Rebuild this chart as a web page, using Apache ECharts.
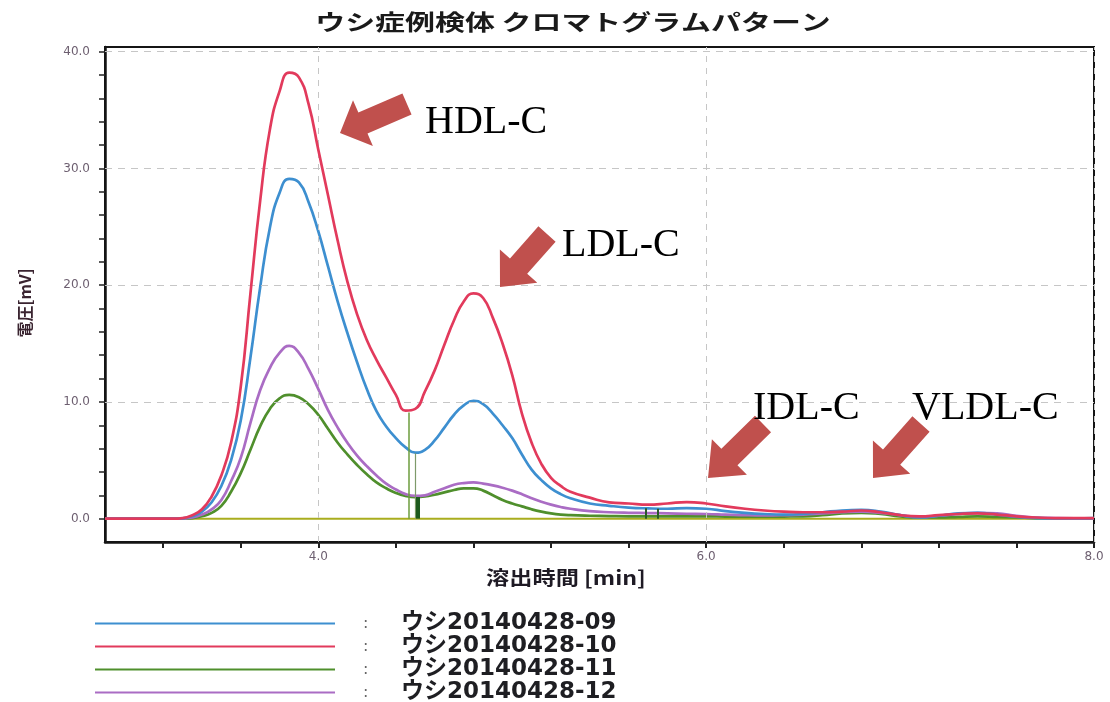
<!DOCTYPE html>
<html>
<head>
<meta charset="utf-8">
<title>ウシ症例検体 クロマトグラムパターン</title>
<script src="https://cdn.jsdelivr.net/npm/echarts@6/dist/echarts.min.js"></script>
<style>
  html, body { margin: 0; padding: 0; background: #ffffff; }
  #chart { width: 1110px; height: 702px; }
</style>
</head>
<body>
<div id="chart"></div>
<script>
// Elution time [min], shared by all four traces
const times = [
  2.9, 3.0, 3.1, 3.2, 3.25, 3.3, 3.35, 3.4, 3.45, 3.5, 3.55, 3.6, 3.65, 3.7, 3.75,
  3.8, 3.85, 3.9, 3.95, 4.0, 4.05, 4.1, 4.15, 4.2, 4.25, 4.3, 4.35, 4.4, 4.45, 4.5,
  4.55, 4.6, 4.65, 4.7, 4.75, 4.8, 4.85, 4.9, 4.95, 5.0, 5.05, 5.1, 5.15, 5.2, 5.25,
  5.3, 5.4, 5.5, 5.6, 5.7, 5.8, 5.9, 6.0, 6.1, 6.2, 6.3, 6.4, 6.5, 6.6, 6.7,
  6.8, 6.9, 7.0, 7.1, 7.2, 7.3, 7.4, 7.5, 7.6, 7.7, 7.8, 7.9, 8.0
];

// Detector voltage [mV] per sample
const sample09 = [
  0, 0, 0, 0, 0, 0.03, 0.2, 0.6, 1.4, 2.8, 5.0, 8.4, 13.8, 19.8, 24.9,
  27.9, 29.1, 28.8, 27.1, 24.6, 21.6, 18.6, 15.9, 13.4, 11.1, 9.2, 7.9, 6.9, 6.1, 5.65,
  5.9, 6.7, 7.8, 8.9, 9.7, 10.1, 9.8, 9.0, 8.0, 6.9, 5.5, 4.2, 3.3, 2.6, 2.1,
  1.75, 1.3, 1.1, 0.95, 0.88, 0.85, 0.9, 0.85, 0.65, 0.5, 0.4, 0.35, 0.4, 0.55, 0.7,
  0.75, 0.6, 0.3, 0.1, 0.25, 0.45, 0.5, 0.35, 0.15, 0.05, 0.02, 0.02, 0.05
];
const sample10 = [
  0, 0, 0, 0, 0, 0.05, 0.3, 0.8, 1.9, 3.7, 6.5, 11.3, 19.3, 27.2, 33.3,
  36.6, 38.2, 37.8, 35.5, 31.6, 27.7, 23.8, 20.3, 17.5, 15.3, 13.6, 12.1, 10.6, 9.25, 9.4,
  10.9, 12.7, 14.9, 17.0, 18.6, 19.3, 18.9, 17.2, 15.0, 12.3, 9.0, 6.5, 4.7, 3.5, 2.8,
  2.3, 1.8, 1.4, 1.3, 1.2, 1.3, 1.42, 1.3, 1.05, 0.85, 0.7, 0.6, 0.55, 0.55, 0.6,
  0.7, 0.55, 0.3, 0.2, 0.3, 0.4, 0.45, 0.35, 0.2, 0.1, 0.05, 0.05, 0.05
];
const sample11 = [
  0, 0, 0, 0, 0, 0.01, 0.05, 0.2, 0.5, 1.1, 2.3, 3.9, 5.9, 7.9, 9.4,
  10.3, 10.6, 10.4, 9.8, 8.9, 7.7, 6.5, 5.5, 4.6, 3.8, 3.1, 2.6, 2.2, 1.95, 1.85,
  1.9, 2.05, 2.25, 2.45, 2.6, 2.6, 2.4, 2.0, 1.6, 1.3, 1.05, 0.8, 0.6, 0.45, 0.35,
  0.3, 0.25, 0.22, 0.2, 0.2, 0.2, 0.2, 0.2, 0.18, 0.17, 0.17, 0.18, 0.2, 0.3, 0.45,
  0.5, 0.4, 0.2, 0.1, 0.1, 0.15, 0.2, 0.15, 0.1, 0.05, 0.03, 0.02, 0.02
];
const sample12 = [
  0, 0, 0, 0, 0, 0.02, 0.1, 0.35, 0.8, 1.6, 3.2, 5.2, 8.2, 11.0, 12.9,
  14.2, 14.8, 14.2, 12.8, 11.1, 9.3, 7.8, 6.5, 5.4, 4.5, 3.7, 3.0, 2.5, 2.1, 1.95,
  2.0, 2.3, 2.6, 2.9, 3.05, 3.1, 3.0, 2.85, 2.65, 2.4, 2.1, 1.75, 1.45, 1.2, 1.0,
  0.85, 0.65, 0.55, 0.5, 0.48, 0.45, 0.42, 0.4, 0.35, 0.3, 0.28, 0.3, 0.35, 0.45, 0.55,
  0.6, 0.5, 0.3, 0.15, 0.25, 0.4, 0.5, 0.45, 0.25, 0.1, 0.05, 0.03, 0.03
];

const sampleNames = ['ウシ20140428-09', 'ウシ20140428-10', 'ウシ20140428-11', 'ウシ20140428-12'];

// Peak separation (drop) lines: time and height at the valley
const dropTimes = [4.465, 4.50, 4.515, 5.69, 5.75];
const dropTops = [9.1, 5.6, 1.85, 0.9, 0.85];

// Baseline drawn under the traces
const baselineTimes = [3.3, 8.0];
const baselineValues = [0, 0];

// Axis ticks and labels
const xLabelValues = [4, 6, 8];
const xTickValues = [3.2, 3.6, 4.0, 4.4, 4.8, 5.2, 5.6, 6.0, 6.4, 6.8, 7.2, 7.6, 8.0];
const yLabelValues = [0, 10, 20, 30, 40];
const yTickValues = [0, 2, 4, 6, 8, 10, 12, 14, 16, 18, 20, 22, 24, 26, 28, 30, 32, 34, 36, 38, 40];
const xGridValues = [4, 6, 8];
const yGridValues = [10, 20, 30, 40];

// Lipoprotein fraction callouts
const fractionNames = ['HDL-C', 'LDL-C', 'IDL-C', 'VLDL-C'];

const titleText = 'ウシ症例検体 クロマトグラムパターン';
const xName = '溶出時間 [min]';
const yName = '電圧[mV]';

const pairs = (xs, ys) => xs.map((x, i) => [x, ys[i]]);

const colors = {
  '09': '#3d8fd0',
  '10': '#e23a5c',
  '11': '#4f8f2c',
  '12': '#aa6cc4'
};

const latinCjk = '"DejaVu Sans", "Noto Sans CJK JP", sans-serif';
const cjkFont = '"Noto Sans CJK JP", "DejaVu Sans", sans-serif';

const dropStyles = [
  { color: '#6c9c3c', width: 1.5 },
  { color: '#7e9a6a', width: 1.2 },
  { color: '#1d5a1d', width: 4 },
  { color: '#2a5a2a', width: 2 },
  { color: '#2a5a2a', width: 2 }
];

function traceSeries(name, values, color, z) {
  return {
    name: name,
    type: 'line',
    data: pairs(times, values),
    smooth: 0.5,
    symbol: 'none',
    z: z,
    lineStyle: { color: color, width: 2.7 },
    itemStyle: { color: color },
    emphasis: { disabled: true }
  };
}

// Block arrow outline from tip/tail points
function arrowPoints(tip, tail, shaftW, headW, headL) {
  const dx = tip[0] - tail[0], dy = tip[1] - tail[1];
  const len = Math.hypot(dx, dy);
  const ux = dx / len, uy = dy / len;
  const nx = -uy, ny = ux;
  const bx = tip[0] - ux * headL, by = tip[1] - uy * headL;
  return [
    tip,
    [bx + nx * headW / 2, by + ny * headW / 2],
    [bx + nx * shaftW / 2, by + ny * shaftW / 2],
    [tail[0] + nx * shaftW / 2, tail[1] + ny * shaftW / 2],
    [tail[0] - nx * shaftW / 2, tail[1] - ny * shaftW / 2],
    [bx - nx * shaftW / 2, by - ny * shaftW / 2],
    [bx - nx * headW / 2, by - ny * headW / 2]
  ];
}

const calloutLayout = [
  { text: [425, 102], tip: [340, 133], tail: [407, 104], headL: 25 },
  { text: [562, 225], tip: [500, 287], tail: [547, 234], headL: 28 },
  { text: [753, 388], tip: [708, 478], tail: [763, 424], headL: 30 },
  { text: [912, 388], tip: [873, 478], tail: [921, 424], headL: 28 }
];

const graphics = [
  {
    type: 'text', x: 573, y: 22, scaleX: 1.36, silent: true,
    style: { text: titleText, align: 'center', verticalAlign: 'middle',
             font: 'bold 22px ' + cjkFont, fill: '#1a1a1a' }
  },
  {
    type: 'text', x: 566, y: 578, scaleX: 1.22, silent: true,
    style: { text: xName, align: 'center', verticalAlign: 'middle',
             font: 'bold 19px ' + cjkFont, fill: '#1e1a24' }
  },
  {
    type: 'text', x: 25, y: 303, rotation: Math.PI / 2, silent: true,
    style: { text: yName, align: 'center', verticalAlign: 'middle',
             font: 'bold 16px ' + cjkFont, fill: '#3a2430' }
  }
];

calloutLayout.forEach((c, i) => {
  graphics.push({
    type: 'polygon', silent: true, z: 100,
    shape: { points: arrowPoints(c.tip, c.tail, 23, 50, c.headL) },
    style: { fill: '#c0504d' }
  });
  graphics.push({
    type: 'text', x: c.text[0], y: c.text[1], silent: true, z: 100,
    style: { text: fractionNames[i], align: 'left', verticalAlign: 'alphabetic',
             font: '40px "Liberation Serif", "Times New Roman", serif', fill: '#000000' }
  });
});

const gridLineData = []
  .concat(xGridValues.map(v => ({ xAxis: v, lineStyle: { color: '#c6c6c6', type: [6, 6], width: 1 } })))
  .concat(yGridValues.map(v => ({ yAxis: v, lineStyle: { color: '#c6c6c6', type: [7, 6], width: 1 } })));

const dropLineData = dropTimes.map((t, i) => [
  { coord: [t, 0], lineStyle: { color: dropStyles[i].color, width: dropStyles[i].width, type: 'solid' } },
  { coord: [t, dropTops[i]] }
]);

const chart = echarts.init(document.getElementById('chart'), null, { renderer: 'canvas' });

chart.setOption({
  animation: false,
  backgroundColor: '#ffffff',
  grid: {
    left: 105, top: 47, right: 16, bottom: 160,
    show: true, borderColor: '#151515', borderWidth: 2, backgroundColor: 'transparent'
  },
  legend: {
    orient: 'vertical',
    left: 95,
    top: 612,
    width: 700,
    height: 110,
    padding: 0,
    data: sampleNames,
    icon: 'rect',
    itemWidth: 240,
    itemHeight: 2,
    itemGap: 0,
    selectedMode: false,
    formatter: name => '{c|:}{n|' + name + '}',
    textStyle: {
      rich: {
        c: { width: 38, padding: [0, 0, 0, 23], fontSize: 16, color: '#666', fontFamily: latinCjk, lineHeight: 22.5 },
        n: { fontSize: 23, fontWeight: 'bold', color: '#1e1e22', fontFamily: latinCjk, lineHeight: 22.5 }
      }
    }
  },
  xAxis: {
    type: 'value',
    min: 2.9,
    max: 8.0,
    axisLine: { show: true, onZero: false, lineStyle: { color: '#151515', width: 2.5 } },
    axisTick: { show: true, customValues: xTickValues, length: 6, lineStyle: { color: '#222', width: 2 } },
    axisLabel: {
      customValues: xLabelValues,
      formatter: v => v.toFixed(1),
      margin: 9,
      fontSize: 12,
      fontFamily: '"DejaVu Sans", sans-serif',
      color: '#6d5f70'
    },
    splitLine: { show: false }
  },
  yAxis: {
    type: 'value',
    min: -2,
    max: 40.4,
    axisLine: { show: true, onZero: false, lineStyle: { color: '#151515', width: 2.5 } },
    axisTick: { show: true, customValues: yTickValues, length: 6, lineStyle: { color: '#222', width: 1.5 } },
    axisLabel: {
      customValues: yLabelValues,
      formatter: v => v.toFixed(1),
      margin: 15,
      fontSize: 12,
      fontFamily: '"DejaVu Sans", sans-serif',
      color: '#6d5f70'
    },
    splitLine: { show: false }
  },
  graphic: graphics,
  series: [
    {
      name: 'baseline',
      type: 'line',
      data: pairs(baselineTimes, baselineValues),
      symbol: 'none',
      z: 1,
      lineStyle: { color: '#a9ad1e', width: 2 },
      emphasis: { disabled: true },
      markLine: {
        silent: true,
        symbol: ['none', 'none'],
        label: { show: false },
        animation: false,
        data: gridLineData
      }
    },
    Object.assign(traceSeries(sampleNames[2], sample11, colors['11'], 2), {
      markLine: {
        silent: true,
        symbol: ['none', 'none'],
        label: { show: false },
        animation: false,
        data: dropLineData
      }
    }),
    traceSeries(sampleNames[3], sample12, colors['12'], 3),
    traceSeries(sampleNames[0], sample09, colors['09'], 4),
    traceSeries(sampleNames[1], sample10, colors['10'], 5)
  ]
});
</script>
</body>
</html>
